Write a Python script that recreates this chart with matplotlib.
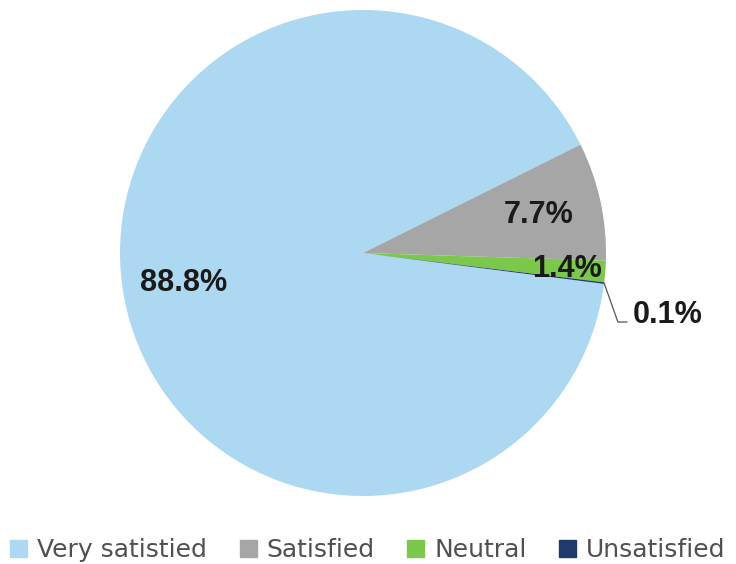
import matplotlib
matplotlib.use("Agg")
import matplotlib.pyplot as plt
from matplotlib.patches import Rectangle
import numpy as np

categories = ['Very satistied', 'Satisfied', 'Neutral', 'Unsatisfied']
values = [88.8, 7.7, 1.4, 0.1]
labels = ['88.8%', '7.7%', '1.4%', '0.1%']
colors = ['#ADD8F2', '#A6A6A6', '#7BC84C', '#1F3A6B']

W, H = 736, 564
fig = plt.figure(figsize=(W / 100, H / 100), dpi=100)

# pie centre and radius in pixels
cx, cy, r = 363, 253, 243
ax = fig.add_axes([(cx - r) / W, (H - cy - r) / H, 2 * r / W, 2 * r / H])

wedges, _ = ax.pie(values, colors=colors, startangle=-7.3, counterclock=False,
                   wedgeprops=dict(linewidth=0))
ax.set_xlim(-1, 1)
ax.set_ylim(-1, 1)
ax.axis('off')

lab_font = dict(family='Liberation Sans', weight='bold', size=22, color='#1a1a1a')
dists = [0.75, 0.74, 0.84]
for w, lab, d in zip(wedges[:3], labels[:3], dists):
    a = np.deg2rad((w.theta1 + w.theta2) / 2)
    ax.text(d * np.cos(a), d * np.sin(a), lab, ha='center', va='center', **lab_font)

# small slice label with leader line
w = wedges[3]
a = np.deg2rad((w.theta1 + w.theta2) / 2)
x0, y0 = np.cos(a), np.sin(a)
ax.plot([x0, 1.049, 1.086], [y0, -0.284, -0.284], color='#555555', lw=0.9, clip_on=False)
ax.text(1.11, -0.255, labels[3], ha='left', va='center', clip_on=False, **lab_font)

handles = [Rectangle((0, 0), 1, 1, color=c) for c in colors]
fig.legend(handles, categories, loc='center', bbox_to_anchor=(0.5, 1 - 550 / H),
           ncol=4, frameon=False, handlelength=0.68, handleheight=0.68,
           handletextpad=0.4, columnspacing=1.3,
           prop=dict(family='DejaVu Sans', size=18), labelcolor='#505050')

plt.savefig('out.png', dpi=100)
